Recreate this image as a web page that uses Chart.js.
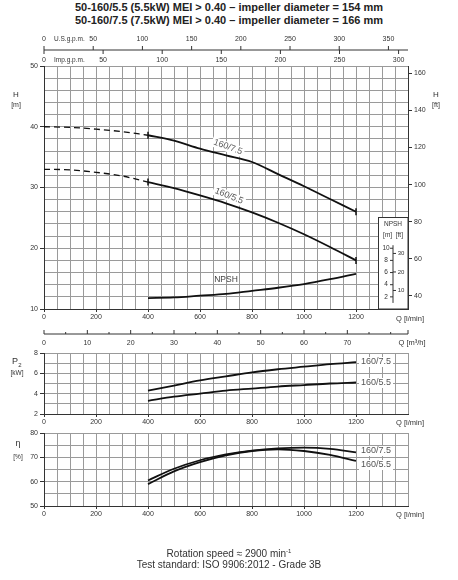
<!DOCTYPE html>
<html><head><meta charset="utf-8">
<script src="https://cdn.jsdelivr.net/npm/chart.js@4"></script>
<style>
body{margin:0;background:#fff;width:458px;height:580px;position:relative;overflow:hidden;font-family:"Liberation Sans",Arial,sans-serif}
canvas{position:absolute;left:0}
.t{position:absolute;left:0;width:458px;text-align:center;color:#222}
</style></head><body>
<div class="t" style="top:1px;font-weight:bold;font-size:11px;line-height:13px">50-160/5.5 (5.5kW) MEI &gt; 0.40 – impeller diameter = 154 mm<br>50-160/7.5 (7.5kW) MEI &gt; 0.40 – impeller diameter = 166 mm</div>
<div style="position:absolute;left:0;top:0;width:458px;height:330px"><canvas id="c1"></canvas></div>
<div style="position:absolute;left:0;top:320px;width:458px;height:110px"><canvas id="c2"></canvas></div>
<div style="position:absolute;left:0;top:425px;width:458px;height:100px"><canvas id="c3"></canvas></div>
<div class="t" style="top:546px;font-size:10px;line-height:11px;color:#333">Rotation speed ≈ 2900 min<sup style="font-size:6px">-1</sup><br>Test standard: ISO 9906:2012 - Grade 3B</div>
<script>
// ---- data ----
const qDash = [0,100,200,300,400];
const h75Dash = [40,39.9,39.6,39.2,38.6];
const h55Dash = [33,32.9,32.5,31.9,30.9];
const q = [400,500,600,700,800,900,1000,1100,1200];
const h75 = [38.6,37.7,36.4,35.3,34.2,32.2,30.2,28.1,26.0];
const h55 = [30.9,29.9,28.7,27.4,25.9,24.2,22.3,20.2,18.0];
const npsh = [1.8,1.9,2.2,2.5,3.0,3.5,4.1,4.9,5.8];
const p75 = [4.3,4.8,5.3,5.7,6.1,6.4,6.65,6.9,7.1];
const p55 = [3.3,3.7,4.0,4.3,4.5,4.7,4.85,5.0,5.1];
const e75 = [60.5,65.3,68.8,71.2,72.8,73.7,74.0,73.5,72.0];
const e55 = [59.0,64.2,68.0,70.8,72.6,73.3,72.6,71.0,68.5];
const usTicks = [0,50,100,150,200,250,300,350];
const impTicks = [0,50,100,150,200,250,300];
const m3Ticks = [0,10,20,30,40,50,60,70];
const ftTicks = [40,60,80,100,120,140,160];
const npshMTicks = [2,4,6,8,10];
const npshFtTicks = [10,20,30];

const F = '"Liberation Sans",Arial,sans-serif';
Chart.defaults.font.family = F;
Chart.defaults.font.size = 7;
Chart.defaults.color = '#333';
Chart.defaults.animation = false;
const pts = (xs, ys) => xs.map((x,i)=>({x, y:ys[i]}));
const gridC = '#9a9a9a', lineC = '#111';
function ds(data, dash, ends){
  return {data, borderColor:lineC, borderWidth:dash?1.3:1.8, borderDash:dash||[], tension:0.4, cubicInterpolationMode:'monotone',
    pointStyle:'line', pointRotation:90, pointBorderWidth:1.5, pointBorderColor:lineC,
    pointRadius: c => ends && (c.dataIndex===0 || c.dataIndex===data.length-1) ? 3.5 : 0};
}
function xAxis(h, labels){
  return {type:'linear', min:0, max:1400, afterFit:s=>{s.height=h;},
    ticks:{stepSize:50, autoSkip:false, maxRotation:0, padding:1,
      callback:v=> (labels && v%200===0 && v<=1200) ? v : ''},
    grid:{color:gridC, tickLength:3, tickColor:c=>c.tick&&c.tick.value%200===0&&c.tick.value<=1200?'#333':'transparent'},
    border:{color:'#333'}};
}
function yAxis(min,max,step,lab,grid){
  return {type:'linear', min, max, afterFit:s=>{s.width=44;},
    ticks:{stepSize:grid, autoSkip:false, padding:2, callback:v=> (Math.abs(v%lab)<1e-6)? v : ''},
    grid:{color:gridC, tickLength:4, tickColor:c=>c.tick&&Math.abs(c.tick.value%lab)<1e-6?'#333':'transparent'},
    border:{color:'#333'}};
}
function txt(ctx,s,x,y,opt={}){
  ctx.save(); ctx.font=(opt.size||7)+'px '+F; ctx.fillStyle=opt.color||'#333';
  ctx.textAlign=opt.align||'center'; ctx.textBaseline='middle';
  ctx.translate(x,y); if(opt.rot) ctx.rotate(opt.rot*Math.PI/180);
  if(opt.bg){const w=ctx.measureText(s).width; ctx.fillStyle='#fff'; ctx.fillRect(-w/2-2,-5,w+4,10); ctx.fillStyle=opt.color||'#333';}
  ctx.fillText(s,0,0); ctx.restore();
}
function line(ctx,x1,y1,x2,y2,c,w){ctx.save();ctx.strokeStyle=c||'#333';ctx.lineWidth=w||1;ctx.beginPath();ctx.moveTo(x1,y1);ctx.lineTo(x2,y2);ctx.stroke();ctx.restore();}

// ---- main chart ----
new Chart(document.getElementById('c1'), {
  type:'line',
  data:{datasets:[
    ds(pts(qDash,h75Dash),[6,4]), ds(pts(qDash,h55Dash),[6,4]),
    ds(pts(q,h75),null,true), ds(pts(q,h55),null,true), ds(pts(q,npsh.map(v=>v+10)))
  ]},
  options:{responsive:true, maintainAspectRatio:false, layout:{padding:{top:66,left:0,right:0,bottom:0}},
    plugins:{legend:{display:false}, tooltip:{enabled:false}},
    scales:{
      x:xAxis(21,true),
      y:yAxis(10,50,10,10,2),
      y2:{type:'linear', position:'right', min:10/0.3048, max:50/0.3048, afterFit:s=>{s.width=50;},
        afterBuildTicks:s=>{s.ticks=ftTicks.map(v=>({value:v}));},
        ticks:{padding:2}, grid:{drawOnChartArea:false, tickLength:4, color:'#333'}, border:{color:'#333'}}
    }},
  plugins:[{id:'deco', afterDraw(ch){
    const ctx=ch.ctx, xs=ch.scales.x, ys=ch.scales.y, a=ch.chartArea;
    const yl=50;
    line(ctx,a.left,yl,a.right,yl,'#333');
    usTicks.forEach(v=>{const x=xs.getPixelForValue(v*3.785); line(ctx,x,yl-4,x,yl,'#333'); txt(ctx,String(v),x,39);});
    impTicks.forEach(v=>{const x=xs.getPixelForValue(v*4.546); line(ctx,x,yl,x,yl+4,'#333'); txt(ctx,String(v),x,60);});
    txt(ctx,'U.S.g.p.m.',54,39,{align:'left',size:6.5});
    txt(ctx,'Imp.g.p.m.',54,60,{align:'left',size:6.5});
    txt(ctx,'H',16,95,{size:8}); txt(ctx,'[m]',16,105,{size:7});
    txt(ctx,'H',436,95,{size:8}); txt(ctx,'[ft]',436,105,{size:7});
    txt(ctx,'Q [l/min]',410,319,{size:7.5});
    txt(ctx,'160/7.5',228,147,{rot:20,size:9,bg:true,color:'#555'});
    txt(ctx,'160/5.5',229,196,{rot:22,size:9,bg:true,color:'#555'});
    txt(ctx,'NPSH',226,280,{size:8.5,color:'#444'});
    ctx.save(); ctx.fillStyle='#fff'; ctx.fillRect(378,217,a.right-378,a.bottom-217);
    ctx.strokeStyle='#333'; ctx.strokeRect(378.5,217.5,a.right-378.5,a.bottom-217.5); ctx.restore();
    txt(ctx,'NPSH',393,224,{size:6.5}); txt(ctx,'[m]  [ft]',393,235,{size:6.5});
    const yN=v=>ys.getPixelForValue(v+10);
    line(ctx,393,yN(1),393,yN(10.5),'#333');
    npshMTicks.forEach(v=>{line(ctx,390,yN(v),393,yN(v)); txt(ctx,String(v),386,yN(v),{size:6.5});});
    npshFtTicks.forEach(v=>{const y=yN(v*0.3048); line(ctx,393,y,396,y); txt(ctx,String(v),401,y,{size:6});});
  }}]
});

// ---- P2 chart ----
new Chart(document.getElementById('c2'), {
  type:'line',
  data:{datasets:[ds(pts(q,p75)), ds(pts(q,p55))]},
  options:{responsive:true, maintainAspectRatio:false, layout:{padding:{top:33,left:0,right:50,bottom:0}},
    plugins:{legend:{display:false}, tooltip:{enabled:false}},
    scales:{x:xAxis(16,true), y:yAxis(2,8,2,2,1)}},
  plugins:[{id:'deco2', afterDraw(ch){
    const ctx=ch.ctx, xs=ch.scales.x, a=ch.chartArea;
    const yl=14;
    line(ctx,a.left,yl,a.right,yl,'#333');
    m3Ticks.forEach(v=>{const x=xs.getPixelForValue(v*1000/60); line(ctx,x,yl-4,x,yl); txt(ctx,String(v),x,23);});
    [5,15,25,35,45,55,65,75,80].forEach(v=>{const x=xs.getPixelForValue(v*1000/60); line(ctx,x,yl-2,x,yl);});
    line(ctx,a.right,yl-4,a.right,yl);
    txt(ctx,'Q [m³/h]',412,23,{size:7.5});
    txt(ctx,'P',15,42,{size:9}); txt(ctx,'2',20,45,{size:6}); txt(ctx,'[kW]',17,53,{size:6.5});
    txt(ctx,'Q [l/min]',410,103,{size:7.5});
    txt(ctx,'160/7.5',376,42,{size:9,bg:true,color:'#555'});
    txt(ctx,'160/5.5',376,63,{size:9,bg:true,color:'#555'});
  }}]
});

// ---- efficiency chart ----
new Chart(document.getElementById('c3'), {
  type:'line',
  data:{datasets:[ds(pts(q,e75)), ds(pts(q,e55))]},
  options:{responsive:true, maintainAspectRatio:false, layout:{padding:{top:8,left:0,right:50,bottom:0}},
    plugins:{legend:{display:false}, tooltip:{enabled:false}},
    scales:{x:xAxis(19,true), y:yAxis(50,80,10,10,5)}},
  plugins:[{id:'deco3', afterDraw(ch){
    const ctx=ch.ctx;
    txt(ctx,'η',18,19,{size:9}); txt(ctx,'[%]',18,32,{size:6.5});
    txt(ctx,'Q [l/min]',410,90,{size:7.5});
    txt(ctx,'160/7.5',376,26,{size:9,bg:true,color:'#555'});
    txt(ctx,'160/5.5',376,40,{size:9,bg:true,color:'#555'});
  }}]
});
</script></body></html>
